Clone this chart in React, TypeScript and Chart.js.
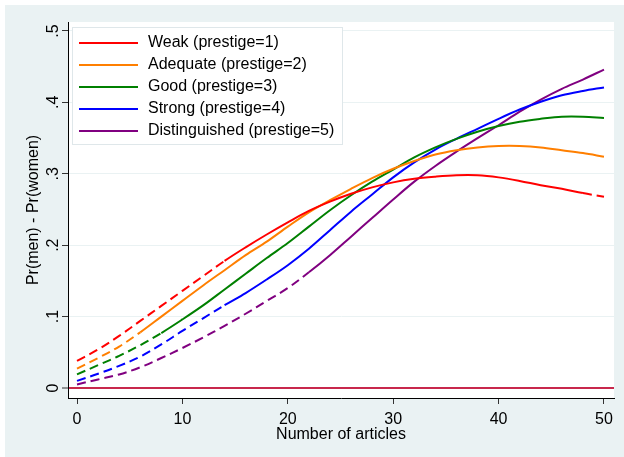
import { useEffect, useRef } from "react";
import { Chart, registerables } from "chart.js";

Chart.register(...registerables);

const articles = [0, 2, 4, 6, 8, 10, 12, 14, 16, 18, 20, 22, 24, 26, 28, 30, 32, 34, 36, 38, 40, 42, 44, 46, 48, 50];
const weak = [0.038, 0.054, 0.073, 0.094, 0.115, 0.136, 0.157, 0.178, 0.197, 0.215, 0.232, 0.248, 0.261, 0.272, 0.281, 0.288, 0.293, 0.296, 0.298, 0.298, 0.295, 0.29, 0.284, 0.279, 0.273, 0.268];
const adequate = [0.027, 0.042, 0.058, 0.078, 0.1, 0.122, 0.144, 0.165, 0.186, 0.205, 0.226, 0.246, 0.263, 0.279, 0.294, 0.307, 0.318, 0.327, 0.333, 0.337, 0.339, 0.339, 0.337, 0.333, 0.329, 0.324];
const good = [0.019, 0.032, 0.045, 0.06, 0.077, 0.096, 0.116, 0.138, 0.16, 0.182, 0.203, 0.226, 0.249, 0.27, 0.289, 0.306, 0.323, 0.337, 0.349, 0.359, 0.367, 0.373, 0.377, 0.38, 0.38, 0.378];
const strong = [0.01, 0.02, 0.031, 0.044, 0.061, 0.08, 0.098, 0.116, 0.133, 0.152, 0.172, 0.195, 0.221, 0.247, 0.271, 0.295, 0.316, 0.334, 0.349, 0.363, 0.377, 0.39, 0.401, 0.41, 0.416, 0.421];
const distinguished = [0.005, 0.012, 0.019, 0.029, 0.042, 0.056, 0.071, 0.087, 0.104, 0.122, 0.14, 0.162, 0.186, 0.212, 0.238, 0.264, 0.289, 0.311, 0.331, 0.35, 0.368, 0.387, 0.404, 0.419, 0.432, 0.446];

const seriesLabels = [
  "Weak (prestige=1)",
  "Adequate (prestige=2)",
  "Good (prestige=3)",
  "Strong (prestige=4)",
  "Distinguished (prestige=5)",
];
const seriesValues = [weak, adequate, good, strong, distinguished];
const seriesColors = ["#ff0000", "#ff7f00", "#008000", "#0000ff", "#800080"];
// x-range where each curve is drawn dashed (below first value, above second value)
const dashedBelow = [14, 6, 8, 14, 22];
const dashedAbove = [48, 99, 99, 99, 99];

const xTicks = [0, 10, 20, 30, 40, 50];
const yTicks = [0, 0.1, 0.2, 0.3, 0.4, 0.5];
const xTitle = "Number of articles";
const yTitle = "Pr(men) - Pr(women)";

const FONT = "'Liberation Sans', Arial, Helvetica, sans-serif";
const OUTER_BG = "#eaf2f3";
const GRID = "#eaf2f3";
const ZERO_LINE = "#c8284c";

const fmtY = (v: number) => {
  if (Math.abs(v) < 1e-9) return "0";
  return "." + String(Math.round(v * 10));
};

const bgPlugin = {
  id: "stataBackground",
  beforeDraw(chart: any) {
    const { ctx, chartArea: a, width, height } = chart;
    ctx.save();
    ctx.fillStyle = "#ffffff";
    ctx.fillRect(0, 0, width, height);
    ctx.fillStyle = OUTER_BG;
    ctx.fillRect(5, 5, width - 5, height - 5);
    ctx.fillStyle = "#ffffff";
    ctx.fillRect(a.left, a.top, a.right - a.left, a.bottom - a.top);
    ctx.restore();
  },
};

const legendPlugin = {
  id: "stataLegend",
  afterDraw(chart: any) {
    const { ctx, chartArea: a } = chart;
    const left = a.left + 4;
    const top = a.top + 5;
    const w = 271;
    const h = 118;
    ctx.save();
    ctx.fillStyle = "#ffffff";
    ctx.fillRect(left, top, w, h);
    ctx.strokeStyle = "#dfe7ea";
    ctx.lineWidth = 1;
    ctx.setLineDash([]);
    ctx.strokeRect(left + 0.5, top + 0.5, w - 1, h - 1);
    chart.data.datasets.forEach((ds: any, i: number) => {
      const y = top + 16 + i * 22;
      ctx.strokeStyle = ds.borderColor;
      ctx.lineWidth = 2;
      ctx.beginPath();
      ctx.moveTo(left + 7, y);
      ctx.lineTo(left + 66, y);
      ctx.stroke();
      ctx.fillStyle = "#000000";
      ctx.font = `16px ${FONT}`;
      ctx.textBaseline = "middle";
      ctx.textAlign = "left";
      ctx.fillText(ds.label, left + 76, y);
    });
    ctx.restore();
  },
};

export default function App() {
  const canvasRef = useRef<HTMLCanvasElement | null>(null);

  useEffect(() => {
    if (!canvasRef.current) return;
    Chart.defaults.font.family = FONT;
    const datasets = seriesValues.map((vals, i) => ({
      label: seriesLabels[i],
      data: articles.map((x, j) => ({ x, y: vals[j] })),
      borderColor: seriesColors[i],
      backgroundColor: seriesColors[i],
      borderWidth: 2,
      pointRadius: 0,
      fill: false,
      tension: 0.35,
      segment: {
        borderDash: (ctx: any) =>
          ctx.p1.parsed.x <= dashedBelow[i] || ctx.p0.parsed.x >= dashedAbove[i] ? [9, 5] : undefined,
      },
    }));

    const chart = new Chart(canvasRef.current, {
      type: "line",
      data: { datasets },
      plugins: [bgPlugin, legendPlugin],
      options: {
        animation: false,
        responsive: false,
        devicePixelRatio: 1,
        layout: { padding: { left: 0, right: 10, top: 22, bottom: 0 } },
        plugins: { legend: { display: false }, tooltip: { enabled: false } },
        scales: {
          x: {
            type: "linear",
            min: -0.854,
            max: 50.95,
            afterBuildTicks: (s: any) => {
              s.ticks = xTicks.map((v) => ({ value: v }));
            },
            afterFit: (s: any) => {
              s.height = 59;
            },
            ticks: {
              color: "#000",
              font: { size: 16 },
              padding: 6,
              maxRotation: 0,
              minRotation: 0,
              callback: (v: any) => String(v),
            },
            grid: {
              drawOnChartArea: false,
              drawTicks: true,
              tickLength: 6,
              tickColor: "#333",
              tickWidth: 1,
            },
            border: { display: true, color: "#000", width: 1 },
            title: {
              display: true,
              text: xTitle,
              color: "#000",
              font: { size: 16 },
              padding: { top: 0, bottom: 13 },
            },
          },
          y: {
            type: "linear",
            min: -0.014,
            max: 0.5126,
            afterBuildTicks: (s: any) => {
              s.ticks = yTicks.map((v) => ({ value: v }));
            },
            afterFit: (s: any) => {
              s.width = 68;
            },
            ticks: {
              color: "#000",
              font: { size: 16 },
              padding: 2,
              minRotation: 90,
              maxRotation: 90,
              crossAlign: "center",
              callback: (v: any) => fmtY(Number(v)),
            },
            grid: {
              color: (c: any) => (c.tick && Math.abs(c.tick.value) < 1e-9 ? ZERO_LINE : GRID),
              lineWidth: (c: any) => (c.tick && Math.abs(c.tick.value) < 1e-9 ? 2 : 1),
              drawTicks: true,
              tickLength: 6,
              tickColor: "#333",
              tickWidth: 1,
            },
            border: { display: true, color: "#000", width: 1 },
            title: {
              display: true,
              text: yTitle,
              color: "#000",
              font: { size: 16 },
              padding: { top: 24, bottom: 0 },
            },
          },
        },
      },
    });
    return () => chart.destroy();
  }, []);

  return (
    <div style={{ position: "fixed", left: 0, top: 0, width: 624, height: 457, background: "#fff" }}>
      <canvas ref={canvasRef} width={624} height={457} style={{ display: "block", width: 624, height: 457 }} />
    </div>
  );
}
